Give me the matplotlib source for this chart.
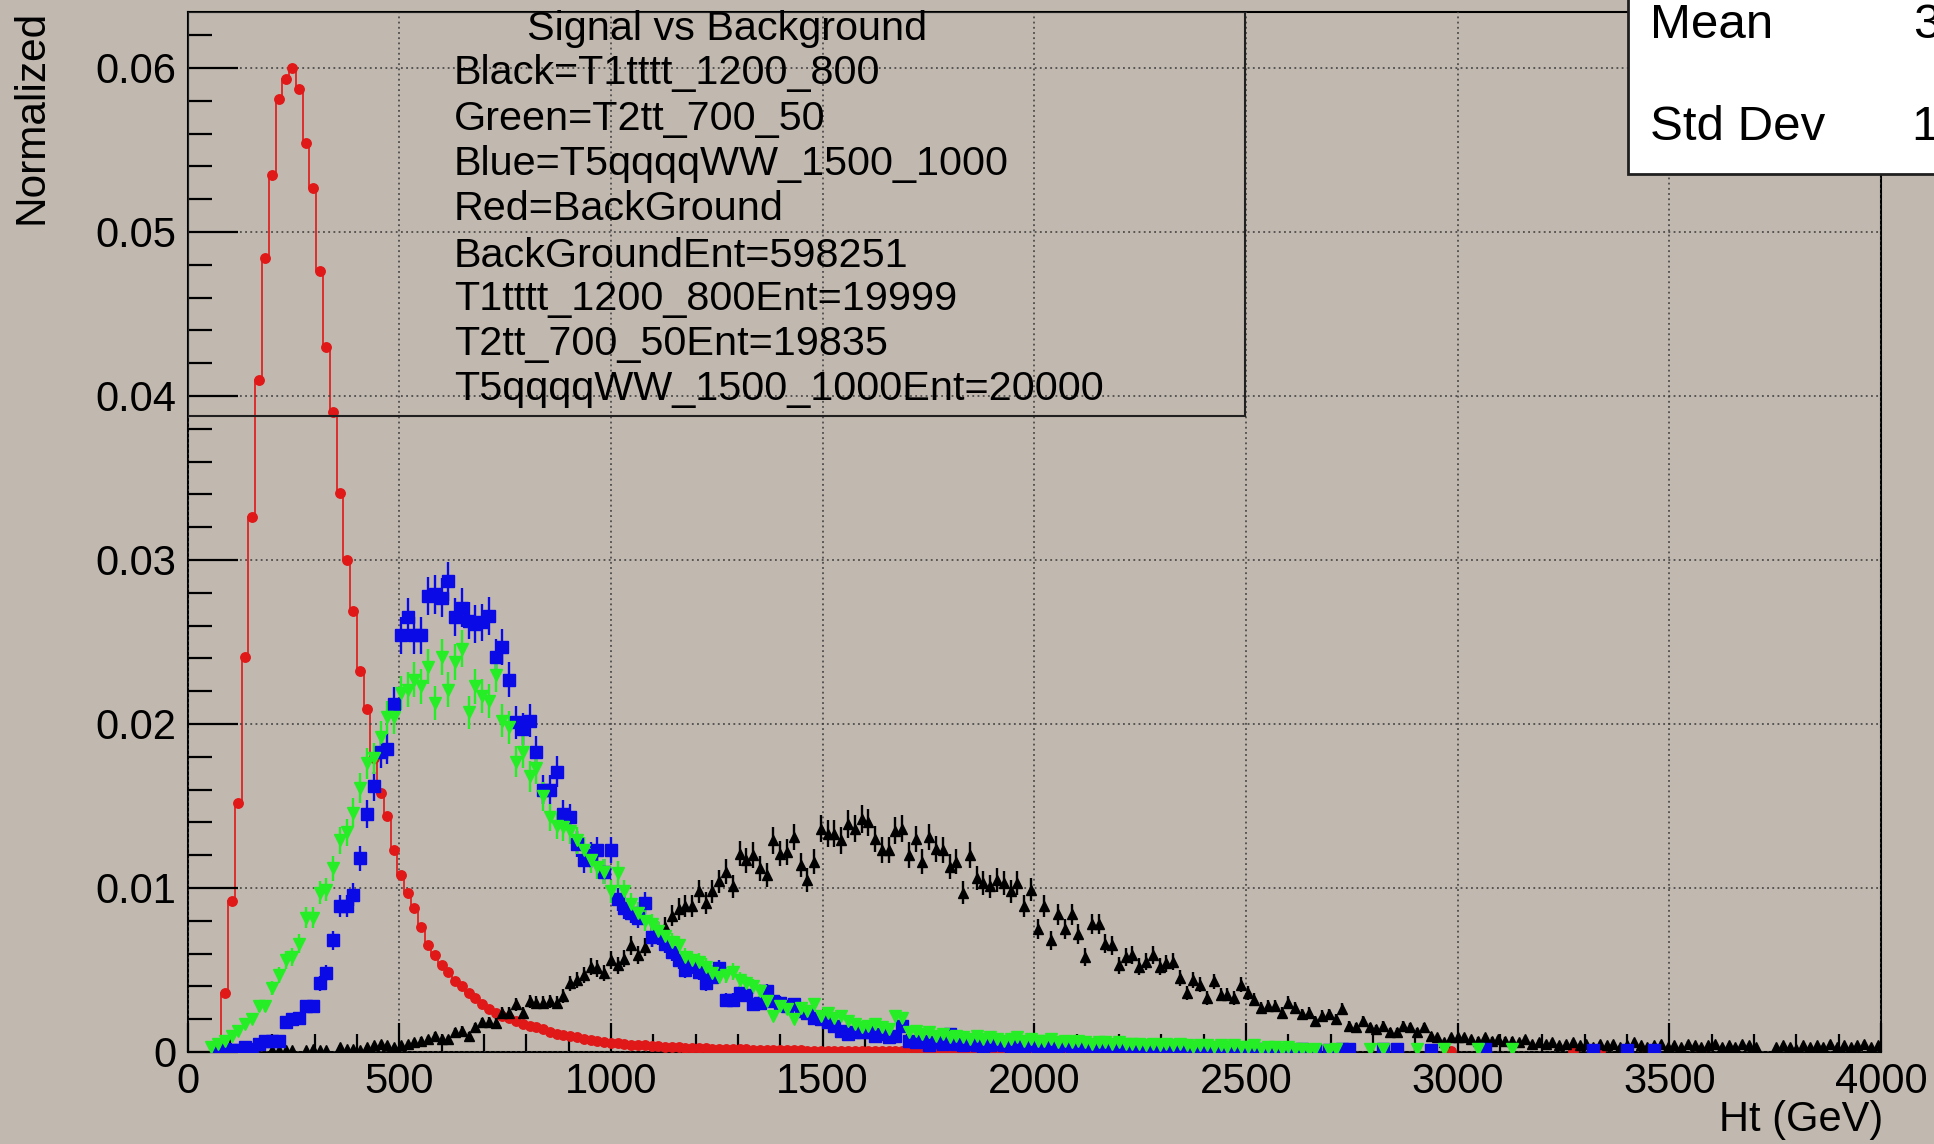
"""
Ht distribution, signal vs background (ROOT-style canvas)
"""
import matplotlib
matplotlib.use('Agg')
import matplotlib.pyplot as plt
import numpy as np
from matplotlib.patches import Rectangle
from matplotlib.ticker import MultipleLocator, FuncFormatter

plt.rcParams['font.family'] = ['Liberation Sans', 'DejaVu Sans']

# 250 bins of 16 GeV from 0 to 4000
edges = np.linspace(0, 4000, 251)

# Red = BackGround (598251 entries)
red = [
    0, 0, 0, 0, 0, 0.0036, 0.0092, 0.0152, 0.0241, 0.0326,
    0.0410, 0.0484, 0.0535, 0.0581, 0.0593, 0.0600, 0.0587, 0.0554, 0.0527, 0.0476,
    0.0430, 0.0390, 0.0341, 0.0300, 0.0269, 0.0232, 0.0209, 0.0179, 0.0158, 0.0144,
    0.0123, 0.0108, 0.0097, 0.0088, 0.0076, 0.0065, 0.0059, 0.0053, 0.0049, 0.0043,
    0.0040, 0.0036, 0.0033, 0.0029, 0.0026, 0.0024, 0.0022, 0.0021, 0.0019, 0.0017,
    0.0016, 0.0015, 0.0014, 0.0012, 0.0011, 0.00105, 0.00095, 0.0009, 0.0008, 0.00075,
    0.0007, 0.00062, 0.00057, 0.00052, 0.00048, 0.00045, 0.00042, 0.0004, 0.00037, 0.00035,
    0.00033, 0.0003, 0.00029, 0.00027, 0.00025, 0.00024, 0.00022, 0.00021, 0.0002, 0.00019,
    0.00018, 0.00017, 0.00016, 0.00015, 0.00014, 0.00013, 0.00012, 0.00012, 0.00011, 0.0001,
    0.0001, 0.00009, 0.00009, 0.00008, 0.00008, 0.00007, 0.00007, 0.00006, 0.00006, 0.00006,
    0.00005, 0.00005, 0.00005, 0.00005, 0.00004, 0.00004, 0.00004, 0.00004, 0.00004, 0.00003,
    0.00003, 0.00003, 0.00003, 0.00003, 0.00003, 0.00003, 0.00003, 0.00002, 0.00003, 0.00002,
    0.00002, 0.00002, 0.00002, 0.00002, 0.00002, 0.00002, 0.00002, 0.00002, 0.00001, 0.00002,
    0.00001, 0.00002, 0.00001, 0.00001, 0.00002, 0.00001, 0.00001, 0.00001, 0.00001, 0.00001,
    0.00001, 0.00001, 0.00001, 0, 0.00001, 0.00001, 0, 0.00001, 0, 0.00001,
    0, 0.00001, 0, 0, 0.00001, 0, 0, 0.00001, 0, 0,
    0, 0.00003, 0, 0, 0, 0, 0, 0, 0.00003, 0,
    0, 0, 0, 0, 0, 0, 0, 0, 0, 0,
    0, 0, 0, 0, 0, 0, 0.00005, 0, 0, 0,
    0, 0, 0, 0, 0, 0, 0, 0, 0, 0,
    0, 0, 0, 0, 0.00004, 0, 0, 0, 0.00004, 0,
    0, 0, 0, 0, 0, 0.00003, 0, 0, 0, 0,
    0, 0, 0, 0.00005, 0, 0, 0, 0, 0, 0,
    0, 0, 0, 0, 0, 0, 0, 0, 0, 0,
    0, 0, 0, 0, 0, 0, 0, 0, 0, 0,
]

# Black = T1tttt_1200_800 (19999 entries)
black = [
    0, 0, 0, 0, 0, 0, 0, 0, 0, 0,
    0, 0, 0.0001, 0.0001, 0.0001, 0.0001, 0, 0.0001, 0.0002, 0.0001,
    0.0001, 0, 0.0003, 0.0002, 0.0002, 0.0001, 0.0003, 0.0004, 0.0005, 0.0004,
    0.0003, 0.0004, 0.0005, 0.0006, 0.0007, 0.0008, 0.0010, 0.0008, 0.0008, 0.0012,
    0.0013, 0.0010, 0.0015, 0.0018, 0.00185, 0.00175, 0.0024, 0.0024, 0.0029, 0.0024,
    0.0031, 0.0030, 0.0030, 0.0031, 0.0030, 0.0034, 0.0042, 0.0044, 0.0047, 0.0052,
    0.0051, 0.0048, 0.0056, 0.0053, 0.0057, 0.0065, 0.0059, 0.0064, 0.0070, 0.0073,
    0.0076, 0.0083, 0.0087, 0.0089, 0.0089, 0.0098, 0.0091, 0.0098, 0.0104, 0.0110,
    0.0101, 0.0121, 0.0117, 0.0120, 0.0112, 0.0108, 0.0129, 0.0121, 0.0122, 0.0131,
    0.0114, 0.0105, 0.0116, 0.0136, 0.0133, 0.0133, 0.0129, 0.0139, 0.0136, 0.0142,
    0.0140, 0.0130, 0.0123, 0.0123, 0.0135, 0.0136, 0.0120, 0.0130, 0.0116, 0.0131,
    0.0124, 0.0123, 0.0113, 0.0116, 0.0097, 0.0120, 0.0106, 0.0103, 0.0101, 0.0105,
    0.0103, 0.0098, 0.0103, 0.0089, 0.0099, 0.0075, 0.0089, 0.0068, 0.0084, 0.0075,
    0.0084, 0.0072, 0.0058, 0.0078, 0.0078, 0.0066, 0.0065, 0.0053, 0.0058, 0.0059,
    0.0052, 0.0055, 0.0059, 0.0052, 0.0054, 0.0055, 0.0045, 0.0036, 0.0044, 0.0041,
    0.0033, 0.0043, 0.0035, 0.0035, 0.0033, 0.0041, 0.0036, 0.0032, 0.0027, 0.0028,
    0.0028, 0.0024, 0.0030, 0.0027, 0.0023, 0.0024, 0.0019, 0.0022, 0.0023, 0.0020,
    0.0026, 0.0016, 0.0015, 0.0019, 0.0015, 0.0014, 0.0016, 0.0012, 0.0012, 0.0016,
    0.0015, 0.0012, 0.0015, 0.0010, 0.0009, 0.0006, 0.0009, 0.0009, 0.0009, 0.0008,
    0.0007, 0.0009, 0.0007, 0.0008, 0.0007, 0.0007, 0.0006, 0.0008, 0.0005, 0.0006,
    0.0005, 0.0006, 0.0004, 0.0005, 0.0006, 0.0004, 0.0005, 0.0003, 0.0005, 0.0004,
    0.0005, 0.0003, 0.0004, 0.0006, 0.0004, 0.0003, 0.0004, 0.0005, 0.0003, 0.0004,
    0.0003, 0.0005, 0.0004, 0.0003, 0.0004, 0.0005, 0.0003, 0.0004, 0.0003, 0.0005,
    0.0004, 0.0003, 0, 0, 0.0003, 0.0004, 0.0003, 0.0002, 0.0004, 0.0003,
    0.0004, 0.0003, 0.0005, 0.0003, 0.0004, 0.0003, 0.0004, 0.0005, 0.0003, 0.0004,
]

# Blue = T5qqqqWW_1500_1000 (20000 entries)
blue = [
    0, 0, 0, 0, 0.0002, 0.0002, 0.0001, 0.0001, 0.0003, 0.0002,
    0.0005, 0.0007, 0.0007, 0.0007, 0.0018, 0.0020, 0.0021, 0.0028, 0.0028, 0.0042,
    0.0048, 0.0068, 0.0089, 0.0089, 0.0096, 0.0118, 0.0145, 0.0162, 0.0183, 0.0185,
    0.0212, 0.0254, 0.0265, 0.0254, 0.0254, 0.0278, 0.0279, 0.0277, 0.0287, 0.0265,
    0.0271, 0.0263, 0.0261, 0.0262, 0.0266, 0.0241, 0.0247, 0.0227, 0.0201, 0.0197,
    0.0202, 0.0183, 0.0160, 0.0160, 0.0171, 0.0145, 0.0143, 0.0127, 0.0117, 0.0120,
    0.0123, 0.0110, 0.0123, 0.0093, 0.0088, 0.0085, 0.0082, 0.0091, 0.0070, 0.0071,
    0.0066, 0.0061, 0.0056, 0.0050, 0.0053, 0.0049, 0.0042, 0.0046, 0.0051, 0.0032,
    0.0032, 0.0036, 0.0035, 0.0029, 0.0030, 0.0037, 0.0031, 0.0030, 0.0028, 0.0029,
    0.0025, 0.0024, 0.0021, 0.0020, 0.0018, 0.0016, 0.0013, 0.0011, 0.0012, 0.0012,
    0.0012, 0.0010, 0.0011, 0.0009, 0.0010, 0.0016, 0.0007, 0.0006, 0.0007, 0.0004,
    0.0006, 0.0005, 0.0011, 0.0005, 0.0004, 0.0005, 0.0004, 0.0003, 0.0004, 0.0005,
    0.0004, 0.0003, 0.0004, 0.0003, 0.0004, 0.0003, 0.0003, 0.0002, 0.0003, 0.0004,
    0.0003, 0.0002, 0.0003, 0.0002, 0.0003, 0.0002, 0.0002, 0.0003, 0.0002, 0.0002,
    0.0002, 0.0003, 0.0001, 0.0002, 0.0002, 0.0001, 0.0002, 0.0002, 0.0001, 0.0002,
    0.0001, 0.0002, 0.0001, 0.0002, 0.0001, 0.0001, 0.0002, 0.0001, 0.0002, 0.0001,
    0.0001, 0.0001, 0.0001, 0.0001, 0.0002, 0, 0.0001, 0, 0.0001, 0,
    0.0002, 0.0002, 0, 0, 0, 0, 0.0002, 0, 0.0002, 0,
    0, 0, 0, 0.0001, 0, 0, 0, 0, 0, 0,
    0, 0.0002, 0, 0, 0, 0, 0, 0, 0, 0,
    0, 0, 0, 0, 0, 0, 0, 0.0001, 0, 0,
    0, 0, 0.0001, 0, 0, 0, 0.0001, 0, 0, 0,
    0, 0, 0, 0, 0, 0, 0, 0, 0, 0,
    0, 0, 0, 0, 0, 0, 0, 0, 0, 0,
    0, 0, 0, 0, 0, 0, 0, 0, 0, 0,
]

# Green = T2tt_700_50 (19835 entries)
green = [
    0, 0, 0, 0.0003, 0.0005, 0.0007, 0.0010, 0.0013, 0.0017, 0.0020,
    0.0028, 0.0028, 0.0039, 0.0047, 0.0056, 0.0058, 0.0066, 0.0082, 0.0082, 0.0097,
    0.0099, 0.0112, 0.0129, 0.0134, 0.0146, 0.0161, 0.0176, 0.0179, 0.0192, 0.0204,
    0.0204, 0.0219, 0.0221, 0.0227, 0.0223, 0.0235, 0.0213, 0.0241, 0.0221, 0.0238,
    0.0246, 0.0207, 0.0223, 0.0217, 0.0214, 0.0230, 0.0202, 0.0198, 0.0177, 0.0183,
    0.0168, 0.0173, 0.0156, 0.0143, 0.0138, 0.0137, 0.0135, 0.0129, 0.0123, 0.0117,
    0.0113, 0.0110, 0.0098, 0.0109, 0.0098, 0.0090, 0.0085, 0.0080, 0.0078, 0.0074,
    0.0071, 0.0067, 0.0065, 0.0058, 0.0056, 0.0055, 0.0052, 0.0048, 0.0046, 0.0047,
    0.0049, 0.0044, 0.0042, 0.0040, 0.0037, 0.0031, 0.0022, 0.0028, 0.0026, 0.0020,
    0.0027, 0.0025, 0.0029, 0.0022, 0.0024, 0.0021, 0.0022, 0.0019, 0.0017, 0.0015,
    0.0016, 0.0017, 0.0015, 0.0014, 0.0022, 0.0021, 0.0012, 0.0013, 0.0011, 0.0012,
    0.0010, 0.0011, 0.0009, 0.0010, 0.0009, 0.0008, 0.0010, 0.0008, 0.0009, 0.0008,
    0.0007, 0.0008, 0.0009, 0.0007, 0.0008, 0.0007, 0.0007, 0.0008, 0.0006, 0.0007,
    0.0006, 0.0007, 0.0006, 0.0005, 0.0006, 0.0006, 0.0005, 0.0006, 0.0005, 0.0005,
    0.0005, 0.0004, 0.0005, 0.0004, 0.0005, 0.0004, 0.0005, 0.0004, 0.0003, 0.0004,
    0.0004, 0.0003, 0.0004, 0.0003, 0.0004, 0.0003, 0.0003, 0.0004, 0.0002, 0.0003,
    0.0003, 0.0002, 0.0003, 0.0002, 0.0002, 0.0001, 0.0002, 0, 0.0001, 0.0002,
    0, 0, 0, 0, 0.0002, 0, 0.0002, 0, 0, 0,
    0, 0.0002, 0, 0, 0, 0.0002, 0, 0, 0, 0,
    0.0002, 0, 0, 0, 0, 0.0002, 0, 0, 0, 0,
    0, 0, 0, 0, 0, 0, 0, 0, 0, 0,
    0, 0, 0, 0, 0, 0, 0, 0, 0, 0,
    0, 0, 0, 0, 0, 0, 0, 0, 0, 0,
    0, 0, 0, 0, 0, 0, 0, 0, 0, 0,
    0, 0, 0, 0, 0, 0, 0, 0, 0, 0,
]

entries = {'red': 598251, 'black': 19999, 'green': 19835, 'blue': 20000}

legend_lines = [
    'Black=T1tttt_1200_800',
    'Green=T2tt_700_50',
    'Blue=T5qqqqWW_1500_1000',
    'Red=BackGround',
    'BackGroundEnt=598251',
    'T1tttt_1200_800Ent=19999',
    'T2tt_700_50Ent=19835',
    'T5qqqqWW_1500_1000Ent=20000',
]

bg = '#c1b9b0'
c_red, c_blue, c_green, c_black = '#e01818', '#0a0ae6', '#26ee26', 'black'

fig = plt.figure(figsize=(19.34, 11.44), dpi=100, facecolor=bg)
ax = fig.add_axes([0.09695, 0.08042, 0.87565, 0.90909], facecolor=bg)

centers = 0.5 * (edges[:-1] + edges[1:])


def shown(vals):
    v = np.array(vals, dtype=float)
    return np.where(v > 0, v, np.nan)


# background: step line + circle markers
ax.stairs(red, edges, color=c_red, lw=1.2, zorder=2)
ax.plot(centers, shown(red), 'o', color=c_red, ms=6.8, mec=c_red, zorder=3)

# signals: markers with sqrt(N) error bars
for vals, name, col, mk, ms in [(black, 'black', c_black, '^', 7.5),
                                 (blue, 'blue', c_blue, 's', 8.0),
                                 (green, 'green', c_green, 'v', 8.5)]:
    y = shown(vals)
    err = np.sqrt(np.nan_to_num(y) / entries[name])
    ax.errorbar(centers, y, yerr=err, fmt=mk, color=col, ms=ms, mec=col,
                elinewidth=1.7, capsize=0, zorder=4)

ax.set_xlim(0, 4000)
ax.set_ylim(0, 0.06341)

ax.xaxis.set_major_locator(MultipleLocator(500))
ax.xaxis.set_minor_locator(MultipleLocator(100))
ax.yaxis.set_major_locator(MultipleLocator(0.01))
ax.yaxis.set_minor_locator(MultipleLocator(0.002))
ax.yaxis.set_major_formatter(FuncFormatter(lambda v, p: '0' if abs(v) < 1e-9 else f'{v:.2f}'))
ax.xaxis.set_major_formatter(FuncFormatter(lambda v, p: f'{int(round(v))}'))

ax.tick_params(axis='both', which='both', direction='in', width=1.6,
               top=False, right=False, labelsize=30, colors='black')
ax.tick_params(axis='y', which='major', length=36, pad=8)
ax.tick_params(axis='y', which='minor', length=17)
ax.tick_params(axis='x', which='major', length=21, pad=7)
ax.tick_params(axis='x', which='minor', length=13)

ax.grid(True, which='major', color='#3a3a3a', linestyle=(0, (1.2, 2.2)), lw=1.1)
ax.set_axisbelow(False)
for sp in ax.spines.values():
    sp.set_linewidth(1.5)
    sp.set_color('black')

# text box with sample description
ax.add_patch(Rectangle((0, 0.6115), 0.6244, 0.3885, transform=ax.transAxes,
                       facecolor='none', edgecolor='#202020', lw=1.5, zorder=6))
ax.text(0.3186, 0.9836, 'Signal vs Background', transform=ax.transAxes,
        ha='center', va='center', fontsize=29.8, zorder=7)
line_y = [0.9413, 0.8971, 0.8538, 0.8105, 0.7653, 0.7240, 0.6807, 0.6375]
for t, yy in zip(legend_lines, line_y):
    ax.text(0.1572, yy, t, transform=ax.transAxes, ha='left', va='center',
            fontsize=29.8, zorder=7)

# axis titles (ROOT style: at the end of the axes)
fig.text(32 / 1934, 1 - 10 / 1144, 'Normalized', rotation=90, ha='center',
         va='top', fontsize=30.5)
fig.text(1883 / 1934, 1 - 1120 / 1144, 'Ht (GeV)', ha='right', va='center',
         fontsize=30)

# stats box, cut off by the canvas edge
fig.patches.append(Rectangle((1628 / 1934, 1 - 174 / 1144), 0.2, 0.2,
                             transform=fig.transFigure, facecolor='white',
                             edgecolor='#202020', lw=2, zorder=10))
fig.text(1650 / 1934, 1 - 26 / 1144, 'Mean', ha='left', va='center',
         fontsize=35.5, zorder=11)
fig.text(1650 / 1934, 1 - 128 / 1144, 'Std Dev', ha='left', va='center',
         fontsize=35.5, zorder=11)
fig.text(1913 / 1934, 1 - 26 / 1144, '3', ha='left', va='center',
         fontsize=35.5, zorder=11)
fig.text(1911 / 1934, 1 - 128 / 1144, '1', ha='left', va='center',
         fontsize=35.5, zorder=11)

for arr in (red, black, blue, green):
    assert len(arr) == 250

fig.savefig('out.png', dpi=100, facecolor=bg)
